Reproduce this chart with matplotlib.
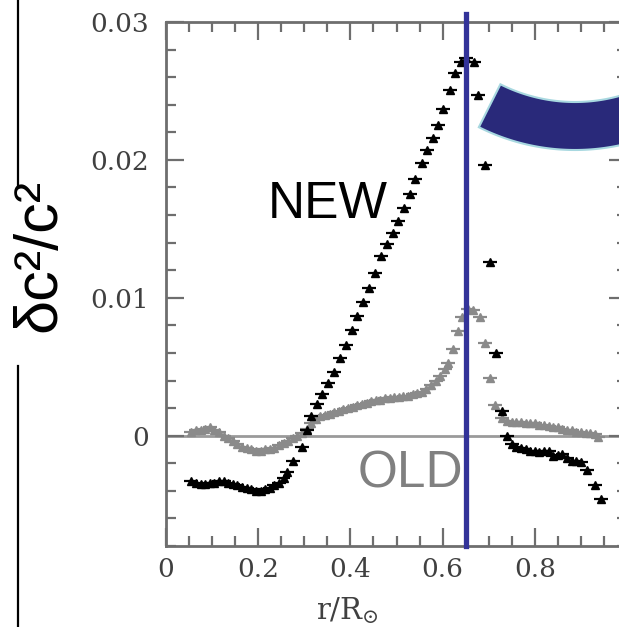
# sound-speed difference profile, new vs old solar model
import numpy as np
import matplotlib.pyplot as plt
from matplotlib.patches import Polygon
from matplotlib.ticker import MultipleLocator

plt.rcParams['mathtext.fontset'] = 'dejavuserif'

# NEW model (black)
new_r = [0.055, 0.065, 0.075, 0.085, 0.095, 0.105, 0.115, 0.125, 0.135, 0.145, 0.155, 0.165,
         0.175, 0.185, 0.195, 0.205, 0.215, 0.225, 0.235, 0.245, 0.255,
         0.262, 0.275, 0.295, 0.306, 0.315, 0.328, 0.338, 0.351, 0.364, 0.377, 0.390, 0.403,
         0.414, 0.427, 0.440, 0.453, 0.466, 0.479, 0.492, 0.503, 0.516, 0.529, 0.540, 0.555,
         0.566, 0.579, 0.590, 0.601, 0.616, 0.627, 0.640, 0.651, 0.668, 0.677, 0.692, 0.703,
         0.716, 0.729, 0.740, 0.750, 0.760, 0.770, 0.780, 0.790, 0.800, 0.810, 0.820, 0.830,
         0.840, 0.850, 0.860, 0.870, 0.880, 0.890, 0.900, 0.913, 0.931, 0.943]
new_dc = [-0.0033, -0.0034, -0.0035, -0.0035, -0.0034, -0.0034, -0.0033, -0.0033, -0.0034, -0.0035,
          -0.0036, -0.0037, -0.0038, -0.0039, -0.0040, -0.0040, -0.0039, -0.0038, -0.0036, -0.0034,
          -0.0031, -0.0026, -0.0018, -0.0008, 0.0004, 0.0014, 0.0023,
          0.0030, 0.0038, 0.0046, 0.0056, 0.0066, 0.0077, 0.0087, 0.0097, 0.0107, 0.0118,
          0.0130, 0.0139, 0.0147, 0.0156, 0.0165, 0.0175, 0.0186, 0.0198, 0.0207, 0.0216,
          0.0225, 0.0237, 0.0251, 0.0263, 0.0271, 0.0274, 0.0271, 0.0247, 0.0196, 0.0126,
          0.0060, 0.0018, 0.0000, -0.0006, -0.0008, -0.0009, -0.0010, -0.0011, -0.0011, -0.0012,
          -0.0011, -0.0011, -0.0015, -0.0014, -0.0013, -0.0016, -0.0018, -0.0018, -0.0019,
          -0.0025, -0.0036, -0.0046]

# OLD model (grey)
old_r = [0.055, 0.065, 0.075, 0.085, 0.095, 0.105, 0.115, 0.125, 0.135, 0.145, 0.155, 0.165,
         0.175, 0.185, 0.195, 0.205, 0.215, 0.225, 0.235, 0.245, 0.255, 0.265, 0.275, 0.285,
         0.295, 0.305, 0.315, 0.325, 0.335, 0.345, 0.355, 0.365, 0.375, 0.385, 0.395, 0.405,
         0.415, 0.425, 0.435, 0.445, 0.455, 0.465, 0.475, 0.485, 0.495, 0.505, 0.515, 0.525,
         0.535, 0.545, 0.555, 0.565, 0.575, 0.585, 0.595, 0.605, 0.612, 0.623, 0.634,
         0.642, 0.655, 0.666, 0.681, 0.692, 0.703, 0.714, 0.729, 0.740, 0.750, 0.760, 0.770,
         0.780, 0.790, 0.800, 0.810, 0.820, 0.830, 0.840, 0.850, 0.860, 0.870, 0.880, 0.890,
         0.900, 0.910, 0.920, 0.930, 0.937]
old_dc = [0.0003, 0.0004, 0.0004, 0.0005, 0.0006, 0.0004, 0.0003, 0.0000, -0.0002, -0.0004,
          -0.0006, -0.0008, -0.0009, -0.0010, -0.0011, -0.0011, -0.0010, -0.0010, -0.0009,
          -0.0007, -0.0005, -0.0004, -0.0002, 0.0000, 0.0002, 0.0005, 0.0009, 0.0012, 0.0014,
          0.0015, 0.0016, 0.0017, 0.0018, 0.0019, 0.0020, 0.0021, 0.0022, 0.0023, 0.0024,
          0.0025, 0.0026, 0.0026, 0.0027, 0.0027, 0.0028, 0.0028, 0.0029, 0.0029, 0.0030,
          0.0031, 0.0032, 0.0034, 0.0037, 0.0040, 0.0043, 0.0048, 0.0053, 0.0063, 0.0076,
          0.0086, 0.0092, 0.0091, 0.0086, 0.0067, 0.0042, 0.0022, 0.0013, 0.0011, 0.0010,
          0.0010, 0.0010, 0.0009, 0.0009, 0.0009, 0.0008, 0.0008, 0.0007, 0.0006, 0.0006,
          0.0005, 0.0004, 0.0004, 0.0003, 0.0003, 0.0002, 0.0002, 0.0001, -0.0001]

x_ticks = [0, 0.2, 0.4, 0.6, 0.8]
x_labels = ['0', '0.2', '0.4', '0.6', '0.8']
y_ticks = [0, 0.01, 0.02, 0.03]
y_labels = ['0', '0.01', '0.02', '0.03']
r_cut = 0.65  # base of convection zone marker

fig = plt.figure(figsize=(6.19, 6.27), dpi=100)
ax = fig.add_axes([166 / 619, 81 / 627, 461 / 619, 524 / 627])

ax.axhline(0, color='#9a9a9a', lw=2.0, zorder=1)
ax.errorbar(old_r, old_dc, xerr=0.015, fmt='^', ms=5.5, color='#8a8a8a',
            ecolor='#8a8a8a', elinewidth=1.6, capsize=0, zorder=2)
ax.errorbar(new_r, new_dc, xerr=0.015, fmt='^', ms=5.5, color='black',
            ecolor='black', elinewidth=1.6, capsize=0, zorder=3)

ax.set_xlim(0, 1.0)
ax.set_ylim(-0.008, 0.03)
ax.set_xticks(x_ticks)
ax.set_xticklabels(x_labels)
ax.set_yticks(y_ticks)
ax.set_yticklabels(y_labels)
ax.xaxis.set_minor_locator(MultipleLocator(0.05))
ax.yaxis.set_minor_locator(MultipleLocator(0.002))
ax.tick_params(which='both', direction='in', top=True, right=True, color='#6e6e6e', width=1.6)
ax.tick_params(which='major', length=13)
ax.tick_params(which='minor', length=7)
ax.tick_params(axis='y', pad=12)
ax.tick_params(axis='x', pad=8)
for lab in ax.get_xticklabels() + ax.get_yticklabels():
    lab.set_fontfamily('DejaVu Serif')
    lab.set_fontsize(19)
    lab.set_color('#404040')
for sp in ax.spines.values():
    sp.set_color('#6e6e6e')
    sp.set_linewidth(2.0)

ax.set_xlabel(r'$\mathrm{r/R}_{\odot}$', fontsize=21, color='#404040')
ax.xaxis.set_label_coords(0.393, -0.094)

ax.axvline(r_cut, ymin=0, ymax=(546 - 14) / 524, color='#333399', lw=3.8,
           clip_on=False, zorder=6)

# overlay in pixel coordinates for the slide decorations
ov = fig.add_axes([0, 0, 1, 1], zorder=5)
ov.set_xlim(0, 619)
ov.set_ylim(627, 0)
ov.axis('off')
ov.patch.set_alpha(0)

ov.plot([18, 18], [0, 187], color='black', lw=1.6)
ov.plot([18, 18], [366, 627], color='black', lw=1.6)

cx, cy, r_in, r_out = 575, -64, 166, 214
th = np.radians(np.linspace(116.7, 60, 80))
outer = np.column_stack([cx + r_out * np.cos(th), cy + r_out * np.sin(th)])
inner = np.column_stack([cx + r_in * np.cos(th[::-1]), cy + r_in * np.sin(th[::-1])])
ov.add_patch(Polygon(np.vstack([outer, inner]), closed=True, facecolor='#29297a',
                     edgecolor='#a8d8e0', lw=1.5))

ov.text(268, 218, 'NEW', fontsize=37, family='Liberation Sans', color='black',
        ha='left', va='baseline')
ov.text(358, 487, 'OLD', fontsize=37, family='Liberation Sans', color='#808080',
        ha='left', va='baseline', zorder=1)

fig.text(40 / 619, 1 - 255 / 627, 'δc²/c²', rotation=90, fontsize=44,
         family='Liberation Sans', ha='center', va='center')

fig.savefig('out.png', dpi=100)
